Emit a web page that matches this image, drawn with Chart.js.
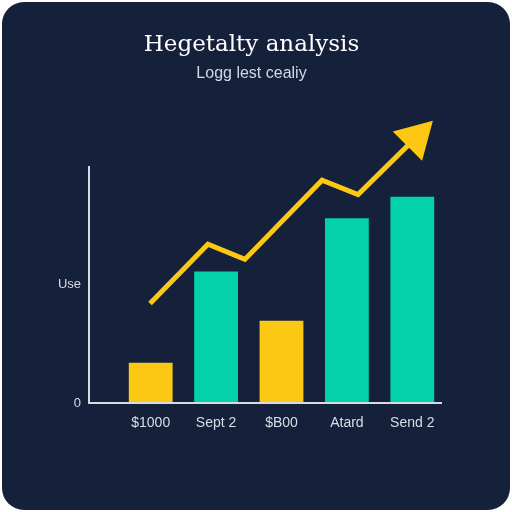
<!DOCTYPE html>
<html>
<head>
<meta charset="utf-8">
<script src="https://cdn.jsdelivr.net/npm/chart.js@4/dist/chart.umd.min.js"></script>
<style>
  html, body { margin: 0; padding: 0; background: #fff; }
  #card {
    position: absolute; left: 2px; top: 2px; width: 508px; height: 508px;
    background: #15203b; border-radius: 22px;
  }
  #wrap { position: absolute; left: 0; top: 0; width: 512px; height: 512px; }
</style>
</head>
<body>
<div id="card"></div>
<div id="wrap"><canvas id="chart" width="512" height="512"></canvas></div>
<script>
// Data
const labels = ['$1000', 'Sept 2', '$B00', 'Atard', 'Send 2']
const barValues = [17, 55.5, 34.7, 78, 87]
const trendX = [9.8, 27.5, 38.8, 62.4, 73.4, 91.1]
const trendY = [42, 67, 60.6, 94, 88, 112]
const yTicks = [0, 50]
const yTickLabels = ['0', 'Use']

const yellow = '#fcc813'
const teal = '#03d1aa'
const axisColor = '#d6dae3'

// L-shaped axis, reaching left of the first bar
const axisLines = {
  id: 'axisLines',
  afterDatasetsDraw (c) {
    const { ctx, chartArea } = c
    const y = c.scales.y
    const x0 = chartArea.left - 29
    ctx.save()
    ctx.strokeStyle = axisColor
    ctx.lineWidth = 2
    ctx.beginPath()
    ctx.moveTo(x0, y.getPixelForValue(100))
    ctx.lineTo(x0, y.getPixelForValue(0))
    ctx.lineTo(chartArea.right - 3, y.getPixelForValue(0))
    ctx.stroke()
    ctx.restore()
  }
}

const chart = document.querySelector('#chart').getContext('2d')
new Chart(chart, {
  type: 'bar',
  data: {
    labels,
    datasets: [
      {
        type: 'line',
        data: trendX.map((x, i) => ({ x, y: trendY[i] })),
        xAxisID: 'x2',
        borderColor: yellow,
        borderWidth: 5,
        borderJoinStyle: 'miter',
        tension: 0,
        pointRadius: trendX.map((_, i) => i === trendX.length - 1 ? 24 : 0),
        pointStyle: 'triangle',
        pointRotation: 45,
        pointBackgroundColor: yellow,
        pointBorderWidth: 0,
        clip: false,
        order: 0
      },
      {
        data: barValues,
        backgroundColor: [yellow, teal, yellow, teal, teal],
        grouped: false,
        categoryPercentage: 1,
        barPercentage: 0.67,
        order: 1
      }
    ]
  },
  options: {
    responsive: false,
    animation: false,
    layout: { padding: { top: 31, left: 58, right: 67, bottom: 69 } },
    plugins: {
      legend: { display: false },
      tooltip: { enabled: false },
      title: {
        display: true,
        text: 'Hegetalty analysis',
        color: '#ffffff',
        font: { family: 'DejaVu Serif', size: 23, weight: 'normal' },
        padding: { top: 0, bottom: 5 }
      },
      subtitle: {
        display: true,
        text: 'Logg lest cealiy',
        color: '#d3d8e3',
        font: { family: 'Liberation Sans', size: 16 },
        padding: { top: 0, bottom: 24 }
      }
    },
    scales: {
      x: {
        grid: { display: false, drawTicks: false },
        border: { display: false },
        ticks: {
          color: '#d9dde6',
          font: { family: 'Liberation Sans', size: 14 },
          padding: 12,
          maxRotation: 0
        },
        afterFit: s => { s.height = 40 }
      },
      x2: {
        type: 'linear',
        min: 0,
        max: 100,
        offset: false,
        display: false
      },
      y: {
        min: 0,
        max: 125,
        grid: { display: false, drawTicks: false },
        border: { display: false },
        afterBuildTicks: s => { s.ticks = yTicks.map(value => ({ value })) },
        ticks: {
          color: '#d9dde6',
          font: { family: 'Liberation Sans', size: 13 },
          padding: 37,
          callback: v => yTickLabels[yTicks.indexOf(v)]
        },
        afterFit: s => { s.width = 60 }
      }
    }
  },
  plugins: [axisLines]
})
</script>
</body>
</html>
